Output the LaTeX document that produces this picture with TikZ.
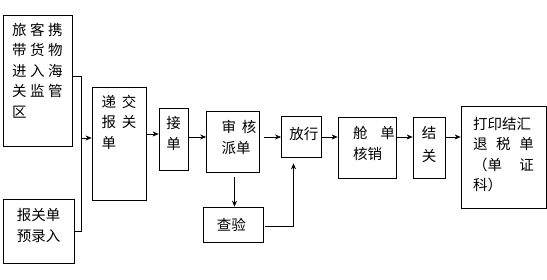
\documentclass[tikz,border=0pt]{standalone}
\usepackage{fontspec}
\setmainfont{Noto Sans CJK SC}
\usetikzlibrary{arrows.meta}

% invisible depth, pushes the text of a box upwards
\newcommand{\lift}[1]{\rule[-#1]{0pt}{#1}}

\begin{document}
\begin{tikzpicture}[
    x=1pt, y=-1pt,
    font=\fontsize{14.5}{20.5}\selectfont,
    >={Stealth[length=6pt,width=5pt]},
    stepbox/.style={
        draw=black,
        line width=0.7pt,
        align=left,
        inner sep=0pt
    },
    flow/.style={->, line width=0.6pt, draw=black}
]
    \useasboundingbox (0,0) rectangle (547,279);

    \node[stepbox, minimum width=69pt, minimum height=131pt] (area) at (37.5,80.5) {
        旅\hspace{3.5pt}客\hspace{3.5pt}携\\
        带\hspace{3.5pt}货\hspace{3.5pt}物\\
        进\hspace{3.5pt}入\hspace{3.5pt}海\\
        关\hspace{3.5pt}监\hspace{3.5pt}管\\
        区\lift{21pt}
    };

    \node[stepbox, minimum width=71pt, minimum height=64pt] (prerec) at (38.5,231) {
        报关单\\
        预录入\lift{12pt}
    };

    \node[stepbox, minimum width=54pt, minimum height=113pt] (submit) at (119,143.5) {
        递\hspace{6pt}交\\
        报\hspace{6pt}关\\
        单\lift{44pt}
    };

    \node[stepbox, minimum width=29pt, minimum height=62pt] (accept) at (173.5,139) {
        接\\
        单\lift{12pt}
    };

    \node[stepbox, minimum width=53pt, minimum height=61pt] (review) at (233,141.5) {
        \hspace{12pt}审\hspace{6pt}核\\
        \hspace{12pt}派单\lift{9pt}
    };

    \node[stepbox, minimum width=39pt, minimum height=41pt] (release) at (301.5,136.5) {
        \hspace{8pt}放行\lift{6pt}
    };

    \node[stepbox, minimum width=58pt, minimum height=61pt] (manifest) at (367,147.5) {
        \hspace{14pt}舱\hspace{13pt}单\\
        \hspace{14pt}核销\lift{9pt}
    };

    \node[stepbox, minimum width=32pt, minimum height=61pt] (close) at (429,147.5) {
        结\\[2pt]
        关\lift{7pt}
    };

    \node[stepbox, minimum width=85pt, minimum height=102pt] (print) at (503.5,157) {
        打印结汇\\
        \makebox[61pt][l]{退\hfill 税\hfill 单}\\
        \makebox[61pt][l]{（单\hfill 证}\\
        科）\lift{6pt}
    };

    \node[stepbox, minimum width=60pt, minimum height=35pt] (inspect) at (233,224.5) {
        查验
    };

    % feed lines into the declaration
    \coordinate (join) at (81,138);
    \draw[line width=0.6pt] (area.east |- 0,76) -| (join);
    \draw[line width=0.6pt] (prerec.east |- 0,231) -| (join);
    \draw[flow] (join) -- (join -| submit.west);

    % main flow
    \draw[flow] (submit.east |- 0,134) -- (accept.west |- 0,134);
    \draw[flow] (accept.east |- 0,137) -- (review.west |- 0,137);
    \draw[flow] ([xshift=4pt]review.east |- 0,137) -- (release.west |- 0,137);
    \draw[flow] (release.east |- 0,137) -- (manifest.west |- 0,137);
    \draw[flow] (manifest.east |- 0,137) -- (close.west |- 0,137);
    \draw[flow] (close.east |- 0,137) -- (print.west |- 0,137);

    % inspection branch
    \draw[flow, shorten <=5pt] (review.south -| 234.5,0) -- (inspect.north -| 234.5,0);
    \draw[flow, shorten <=2pt, shorten >=6pt] (inspect.east |- 0,226) -| (release.south -| 293.5,0);

\end{tikzpicture}
\end{document}
